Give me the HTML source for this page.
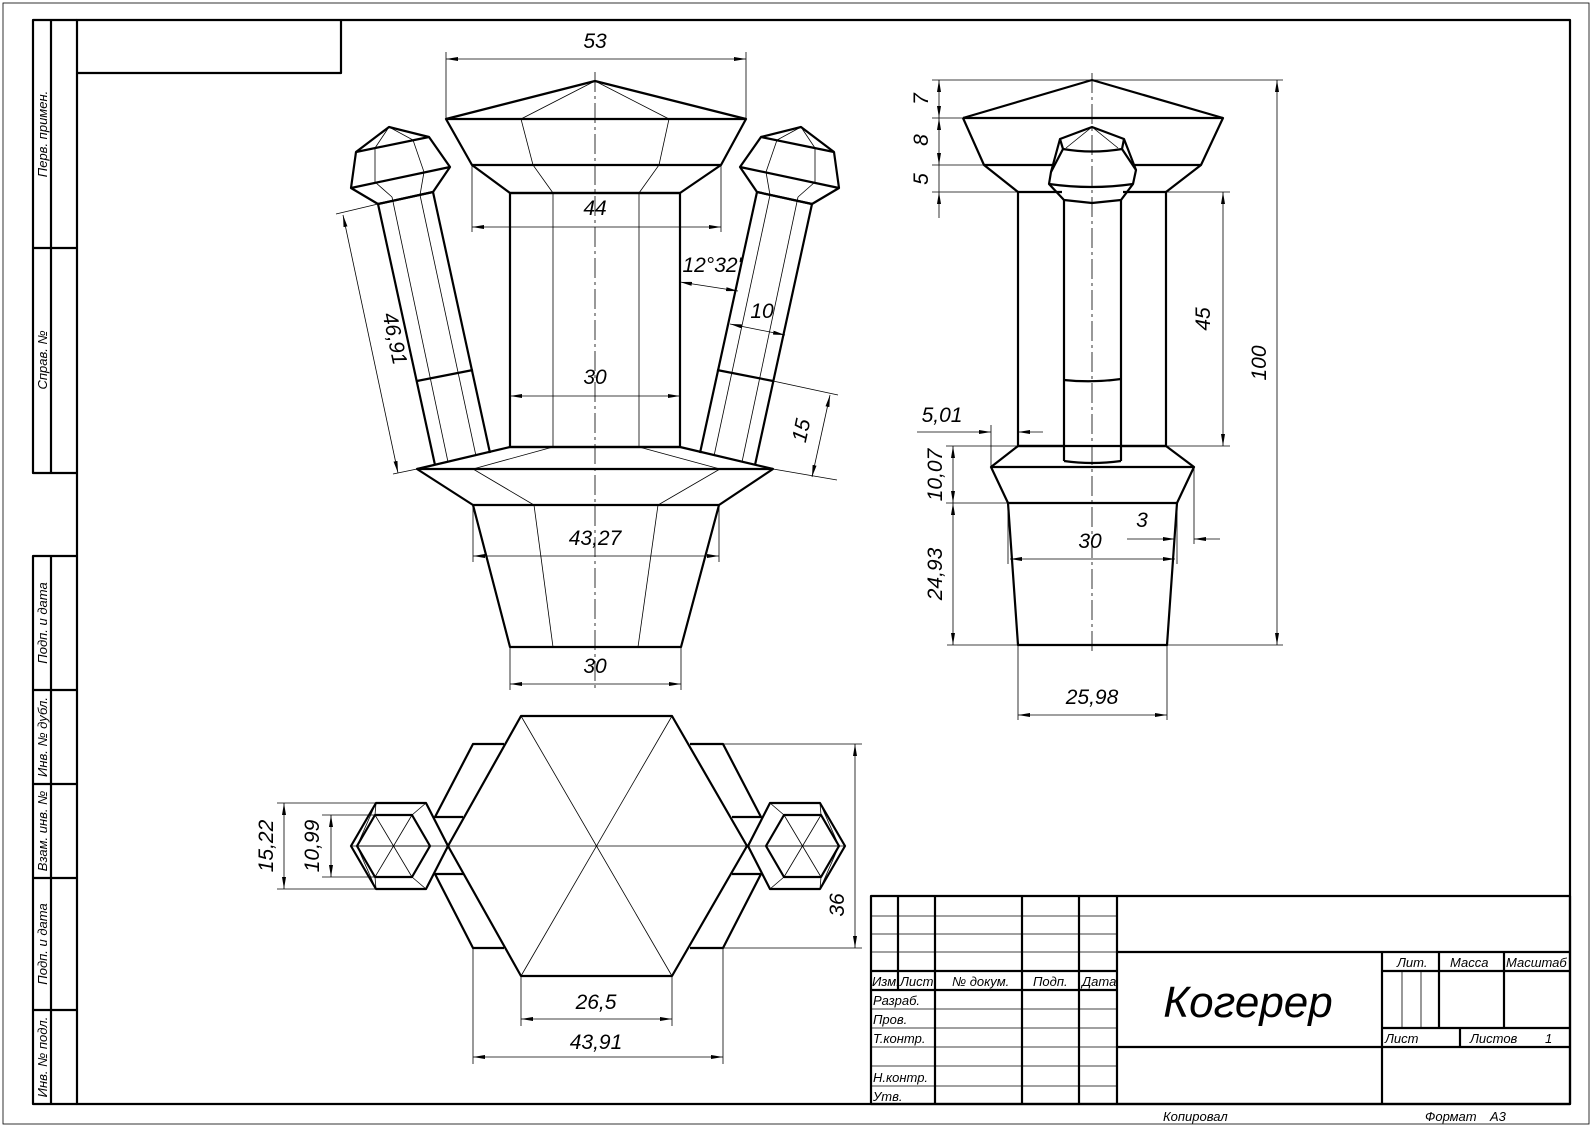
<!DOCTYPE html>
<html><head><meta charset="utf-8"><style>
html,body{margin:0;padding:0;background:#fff}
svg{display:block}
text{font-family:"Liberation Sans Narrow","Liberation Sans","Noto Sans CJK SC",sans-serif;font-style:italic;fill:#000}
.k{stroke:#000;stroke-width:2.2;fill:none;stroke-linejoin:round}
.t{stroke:#000;stroke-width:0.8;fill:none}
.d{stroke:#000;stroke-width:0.8;fill:none;marker-start:url(#a);marker-end:url(#a)}
.c{stroke:#000;stroke-width:0.8;fill:none;stroke-dasharray:20 4 3 4}
.dim{font-size:21px;text-anchor:middle}
.s{font-size:13px}
</style></head><body>
<svg width="1592" height="1127" viewBox="0 0 1592 1127" xmlns="http://www.w3.org/2000/svg">
<defs>
<marker id="a" viewBox="0 0 12 4" refX="12" refY="2" markerUnits="userSpaceOnUse" markerWidth="12" markerHeight="4" orient="auto-start-reverse"><path d="M0,0 L12,2 L0,4 z" fill="#000"/></marker>
</defs>
<!-- frame -->
<rect x="3" y="3" width="1586" height="1121" class="t" stroke-width="1"/>
<rect x="77" y="20" width="1493" height="1084" class="k"/>
<polyline points="77,73 341,73 341,20" class="k"/>
<g class="k">
<polyline points="77,20 33,20 33,473 77,473"/>
<line x1="51" y1="20" x2="51" y2="473"/>
<line x1="33" y1="248" x2="77" y2="248"/>
<polyline points="77,556 33,556 33,1104 77,1104"/>
<line x1="51" y1="556" x2="51" y2="1104"/>
<line x1="33" y1="690" x2="77" y2="690"/>
<line x1="33" y1="784" x2="77" y2="784"/>
<line x1="33" y1="878" x2="77" y2="878"/>
<line x1="33" y1="1010" x2="77" y2="1010"/>
</g>
<g class="s" text-anchor="middle">
<text transform="translate(47,134) rotate(-90)">Перв. примен.</text>
<text transform="translate(47,360) rotate(-90)">Справ. №</text>
<text transform="translate(47,623) rotate(-90)">Подп. и дата</text>
<text transform="translate(47,737) rotate(-90)">Инв. № дубл.</text>
<text transform="translate(47,831) rotate(-90)">Взам. инв. №</text>
<text transform="translate(47,944) rotate(-90)">Подп. и дата</text>
<text transform="translate(47,1057) rotate(-90)">Инв. № подл.</text>
</g>

<!-- ================= FRONT VIEW ================= -->
<line x1="595" y1="72" x2="595" y2="692" class="c"/>
<polygon points="595,81 746,119 721,165 680,193 510,193 472,165 446,119" class="k"/>
<line x1="446" y1="119" x2="746" y2="119" class="k"/>
<line x1="472" y1="165" x2="721" y2="165" class="k"/>
<polyline points="595,81 521,119 533,165 553,193" class="t"/>
<polyline points="595,81 669,119 659,165 639,193" class="t"/>
<rect x="510" y="193" width="170" height="254" class="k"/>
<line x1="553" y1="193" x2="553" y2="447" class="t"/>
<line x1="639" y1="193" x2="639" y2="447" class="t"/>
<polygon points="510,447 680,447 773,469 719,505 681,647 510,647 473,505 417,469" class="k"/>
<line x1="417" y1="469" x2="773" y2="469" class="k"/>
<line x1="473" y1="505" x2="719" y2="505" class="k"/>
<polyline points="553,447 473,469 534,505 553,647" class="t"/>
<polyline points="639,447 720,469 658,505 638,647" class="t"/>
<g>
<polygon points="389,127 429,137 450,167 433,192 378,204 351,188 356,152" class="k"/>
<line x1="356" y1="152" x2="429" y2="137" class="k"/>
<line x1="351" y1="188" x2="450" y2="167" class="k"/>
<line x1="378" y1="204" x2="433" y2="192" class="k"/>
<polyline points="389,127 375,148 375,182 392,197" class="t"/>
<polyline points="389,127 413,140 424,172 420,195" class="t"/>
<line x1="378" y1="204" x2="435" y2="465" class="k"/>
<line x1="433" y1="192" x2="490" y2="453" class="k"/>
<line x1="392" y1="197" x2="448" y2="462" class="t"/>
<line x1="420" y1="195" x2="476" y2="456" class="t"/>
<line x1="417" y1="381" x2="473" y2="370" class="k" stroke-width="1.6"/>
</g>
<g transform="translate(1190,0) scale(-1,1)">
<polygon points="389,127 429,137 450,167 433,192 378,204 351,188 356,152" class="k"/>
<line x1="356" y1="152" x2="429" y2="137" class="k"/>
<line x1="351" y1="188" x2="450" y2="167" class="k"/>
<line x1="378" y1="204" x2="433" y2="192" class="k"/>
<polyline points="389,127 375,148 375,182 392,197" class="t"/>
<polyline points="389,127 413,140 424,172 420,195" class="t"/>
<line x1="378" y1="204" x2="435" y2="465" class="k"/>
<line x1="433" y1="192" x2="490" y2="453" class="k"/>
<line x1="392" y1="197" x2="448" y2="462" class="t"/>
<line x1="420" y1="195" x2="476" y2="456" class="t"/>
<line x1="417" y1="381" x2="473" y2="370" class="k" stroke-width="1.6"/>
</g>
<line x1="446" y1="52" x2="446" y2="119" class="t"/>
<line x1="746" y1="52" x2="746" y2="119" class="t"/>
<line x1="446" y1="59" x2="746" y2="59" class="d"/>
<text x="595" y="48" class="dim">53</text>
<line x1="472" y1="165" x2="472" y2="232" class="t"/>
<line x1="721" y1="165" x2="721" y2="232" class="t"/>
<line x1="472" y1="227" x2="721" y2="227" class="d"/>
<text x="595" y="215" class="dim">44</text>
<line x1="510" y1="396" x2="680" y2="396" class="d"/>
<text x="595" y="384" class="dim">30</text>
<line x1="473" y1="505" x2="473" y2="562" class="t"/>
<line x1="719" y1="505" x2="719" y2="562" class="t"/>
<line x1="473" y1="556" x2="719" y2="556" class="d"/>
<text x="595" y="545" class="dim">43,27</text>
<line x1="510" y1="647" x2="510" y2="690" class="t"/>
<line x1="681" y1="647" x2="681" y2="690" class="t"/>
<line x1="510" y1="684" x2="681" y2="684" class="d"/>
<text x="595" y="673" class="dim">30</text>
<line x1="378" y1="204" x2="336" y2="214" class="t"/>
<line x1="417" y1="469" x2="393" y2="474" class="t"/>
<line x1="343" y1="215" x2="398" y2="473" class="d"/>
<text class="dim" transform="translate(388,340) rotate(78)">46,91</text>
<line x1="680" y1="282" x2="738" y2="291" class="d"/>
<text x="712" y="272" class="dim" font-size="19">12°32'</text>
<line x1="730" y1="324" x2="785" y2="335" class="d"/>
<text x="762" y="318" class="dim">10</text>
<line x1="773" y1="381" x2="838" y2="395" class="t"/>
<line x1="773" y1="469" x2="837" y2="480" class="t"/>
<line x1="830" y1="395" x2="812" y2="477" class="d"/>
<text class="dim" transform="translate(808,432) rotate(-78)">15</text>

<!-- ================= SIDE VIEW ================= -->
<line x1="1092" y1="73" x2="1092" y2="652" class="c"/>
<polyline points="963,118 1092,80 1223,118 1201,165 1166,192" class="k"/>
<polyline points="963,118 984,165 1018,192" class="k"/>
<line x1="963" y1="118" x2="1223" y2="118" class="k"/>
<line x1="984" y1="165" x2="1052" y2="165" class="k"/>
<line x1="1134" y1="165" x2="1201" y2="165" class="k"/>
<line x1="1018" y1="192" x2="1062" y2="192" class="k"/>
<line x1="1123" y1="192" x2="1166" y2="192" class="k"/>
<line x1="1018" y1="192" x2="1018" y2="446" class="k"/>
<line x1="1166" y1="192" x2="1166" y2="446" class="k"/>
<!-- knob -->
<polygon points="1092,127 1124,139 1136,170 1133,184 1121,200 1092,203 1064,200 1049,184 1051,172 1060,139" class="k" fill="#fff"/>
<polyline points="1060,139 1063,149 1051,172" class="k" stroke-width="1.4"/>
<polyline points="1124,139 1122,149 1136,170" class="k" stroke-width="1.4"/>
<line x1="1092" y1="127" x2="1066" y2="148" class="t"/>
<line x1="1092" y1="127" x2="1118" y2="148" class="t"/>
<path d="M1063,149 Q1092,154 1122,149" class="k" stroke-width="1.6"/>
<path d="M1049,184 Q1092,190 1133,184" class="k" stroke-width="1.6"/>
<line x1="1064" y1="200" x2="1064" y2="461" class="k"/>
<line x1="1121" y1="200" x2="1121" y2="461" class="k"/>
<path d="M1064,461 Q1092,465 1121,461" class="k"/>
<path d="M1064,380 Q1092,383 1121,379" class="k" stroke-width="1.4"/>
<!-- collar -->
<line x1="1018" y1="446" x2="1064" y2="446" class="k"/>
<line x1="1121" y1="446" x2="1166" y2="446" class="k"/>
<polygon points="1018,446 1166,446 1194,467 1177,503 1167,645 1018,645 1008,503 991,467" class="k"/>
<line x1="991" y1="467" x2="1194" y2="467" class="k"/>
<line x1="1008" y1="503" x2="1177" y2="503" class="k"/>
<!-- side dims -->
<line x1="932" y1="80" x2="1283" y2="80" class="t"/>
<line x1="932" y1="118" x2="963" y2="118" class="t"/>
<line x1="932" y1="165" x2="984" y2="165" class="t"/>
<line x1="932" y1="192" x2="1018" y2="192" class="t"/>
<line x1="939" y1="80" x2="939" y2="118" class="d"/>
<line x1="939" y1="118" x2="939" y2="165" class="d"/>
<line x1="939" y1="165" x2="939" y2="192" class="t"/>
<line x1="939" y1="192" x2="939" y2="218" class="t" marker-start="url(#a)"/>
<text class="dim" transform="translate(928,99) rotate(-90)">7</text>
<text class="dim" transform="translate(928,140) rotate(-90)">8</text>
<text class="dim" transform="translate(928,179) rotate(-90)">5</text>
<line x1="1166" y1="192" x2="1230" y2="192" class="t"/>
<line x1="1166" y1="446" x2="1230" y2="446" class="t"/>
<line x1="1223" y1="192" x2="1223" y2="446" class="d"/>
<text class="dim" transform="translate(1210,319) rotate(-90)">45</text>
<line x1="1167" y1="645" x2="1283" y2="645" class="t"/>
<line x1="1277" y1="80" x2="1277" y2="645" class="d"/>
<text class="dim" transform="translate(1266,363) rotate(-90)">100</text>
<line x1="946" y1="446" x2="1018" y2="446" class="t"/>
<line x1="946" y1="503" x2="1008" y2="503" class="t"/>
<line x1="947" y1="645" x2="1018" y2="645" class="t"/>
<line x1="953" y1="446" x2="953" y2="503" class="d"/>
<line x1="953" y1="503" x2="953" y2="645" class="d"/>
<text class="dim" transform="translate(942,475) rotate(-90)">10,07</text>
<text class="dim" transform="translate(942,574) rotate(-90)">24,93</text>
<line x1="991" y1="425" x2="991" y2="467" class="t"/>
<line x1="917" y1="432" x2="991" y2="432" class="t" marker-end="url(#a)"/>
<line x1="1018" y1="432" x2="1043" y2="432" class="t" marker-start="url(#a)"/>
<text x="942" y="422" class="dim">5,01</text>
<line x1="1008" y1="503" x2="1008" y2="564" class="t"/>
<line x1="1177" y1="503" x2="1177" y2="564" class="t"/>
<line x1="1010" y1="559" x2="1175" y2="559" class="d"/>
<text x="1090" y="548" class="dim">30</text>
<line x1="1194" y1="467" x2="1194" y2="544" class="t"/>
<line x1="1127" y1="539" x2="1175" y2="539" class="t" marker-end="url(#a)"/>
<line x1="1194" y1="539" x2="1220" y2="539" class="t" marker-start="url(#a)"/>
<text x="1142" y="527" class="dim">3</text>
<line x1="1018" y1="645" x2="1018" y2="720" class="t"/>
<line x1="1167" y1="645" x2="1167" y2="720" class="t"/>
<line x1="1018" y1="715" x2="1167" y2="715" class="d"/>
<text x="1092" y="704" class="dim">25,98</text>

<!-- ================= TOP VIEW ================= -->
<polyline points="504,744 473,744 435,817 463,817" class="k"/>
<polyline points="504,948 473,948 435,874 463,874" class="k"/>
<polyline points="690,744 723,744 761,817 732,817" class="k"/>
<polyline points="690,948 723,948 761,874 732,874" class="k"/>
<polygon points="521,716 672,716 747,846 672,976 521,976 448,846" class="k"/>
<g class="t">
<line x1="521" y1="716" x2="672" y2="976"/>
<line x1="672" y1="716" x2="521" y2="976"/>
<line x1="351" y1="846" x2="845" y2="846"/>
</g>
<g>
<polygon points="376,803 426,803 448,846 426,889 376,889 351,846" class="k" fill="#fff"/>
<polyline points="376,803 357,846 376,889" class="t"/>
<polygon points="375,815 412,815 430,846 412,877 375,877 357,846" class="k" stroke-width="1.8"/>
<line x1="376" y1="803" x2="375" y2="815" class="t"/>
<line x1="426" y1="803" x2="412" y2="815" class="t"/>
<line x1="426" y1="889" x2="412" y2="877" class="t"/>
<line x1="376" y1="889" x2="375" y2="877" class="t"/>
<g class="t">
<line x1="375" y1="815" x2="412" y2="877"/>
<line x1="412" y1="815" x2="375" y2="877"/>
<line x1="357" y1="846" x2="430" y2="846"/>
</g>
</g>
<g transform="translate(1196,0) scale(-1,1)">
<polygon points="376,803 426,803 448,846 426,889 376,889 351,846" class="k" fill="#fff"/>
<polyline points="376,803 357,846 376,889" class="t"/>
<polygon points="375,815 412,815 430,846 412,877 375,877 357,846" class="k" stroke-width="1.8"/>
<line x1="376" y1="803" x2="375" y2="815" class="t"/>
<line x1="426" y1="803" x2="412" y2="815" class="t"/>
<line x1="426" y1="889" x2="412" y2="877" class="t"/>
<line x1="376" y1="889" x2="375" y2="877" class="t"/>
<g class="t">
<line x1="375" y1="815" x2="412" y2="877"/>
<line x1="412" y1="815" x2="375" y2="877"/>
<line x1="357" y1="846" x2="430" y2="846"/>
</g>
</g>
<line x1="277" y1="803" x2="376" y2="803" class="t"/>
<line x1="277" y1="889" x2="376" y2="889" class="t"/>
<line x1="284" y1="803" x2="284" y2="889" class="d"/>
<text class="dim" transform="translate(273,846) rotate(-90)">15,22</text>
<line x1="322" y1="815" x2="375" y2="815" class="t"/>
<line x1="322" y1="877" x2="375" y2="877" class="t"/>
<line x1="331" y1="815" x2="331" y2="877" class="d"/>
<text class="dim" transform="translate(319,846) rotate(-90)">10,99</text>
<line x1="723" y1="744" x2="862" y2="744" class="t"/>
<line x1="723" y1="948" x2="862" y2="948" class="t"/>
<line x1="855" y1="744" x2="855" y2="948" class="d"/>
<text class="dim" transform="translate(844,905) rotate(-90)">36</text>
<line x1="521" y1="976" x2="521" y2="1026" class="t"/>
<line x1="672" y1="976" x2="672" y2="1026" class="t"/>
<line x1="521" y1="1019" x2="672" y2="1019" class="d"/>
<text x="596" y="1009" class="dim">26,5</text>
<line x1="473" y1="948" x2="473" y2="1064" class="t"/>
<line x1="723" y1="948" x2="723" y2="1064" class="t"/>
<line x1="473" y1="1057" x2="723" y2="1057" class="d"/>
<text x="596" y="1049" class="dim">43,91</text>

<!-- ================= TITLE BLOCK ================= -->
<g class="k">
<rect x="871" y="896" width="699" height="208"/>
<line x1="1117" y1="896" x2="1117" y2="1104"/>
<line x1="898" y1="896" x2="898" y2="990"/>
<line x1="935" y1="896" x2="935" y2="1104"/>
<line x1="1022" y1="896" x2="1022" y2="1104"/>
<line x1="1079" y1="896" x2="1079" y2="1104"/>
<line x1="871" y1="971" x2="1117" y2="971"/>
<line x1="871" y1="990" x2="1117" y2="990"/>
<line x1="1117" y1="952" x2="1570" y2="952"/>
<line x1="1117" y1="1047" x2="1570" y2="1047"/>
<line x1="1382" y1="952" x2="1382" y2="1104"/>
<line x1="1382" y1="971" x2="1570" y2="971"/>
<line x1="1382" y1="1028" x2="1570" y2="1028"/>
<line x1="1439" y1="952" x2="1439" y2="1028"/>
<line x1="1504" y1="952" x2="1504" y2="1028"/>
<line x1="1460" y1="1028" x2="1460" y2="1047"/>
</g>
<g class="t" stroke-width="1">
<line x1="871" y1="916" x2="1117" y2="916"/>
<line x1="871" y1="934" x2="1117" y2="934"/>
<line x1="871" y1="952" x2="1117" y2="952"/>
<line x1="871" y1="1009" x2="1117" y2="1009"/>
<line x1="871" y1="1028" x2="1117" y2="1028"/>
<line x1="871" y1="1047" x2="1117" y2="1047"/>
<line x1="871" y1="1066" x2="1117" y2="1066"/>
<line x1="871" y1="1086" x2="1117" y2="1086"/>
<line x1="1402" y1="971" x2="1402" y2="1028"/>
<line x1="1421" y1="971" x2="1421" y2="1028"/>
</g>
<g class="s">
<text x="872" y="986">Изм.</text>
<text x="900" y="986">Лист</text>
<text x="952" y="986">№ докум.</text>
<text x="1033" y="986">Подп.</text>
<text x="1082" y="986">Дата</text>
<text x="873" y="1005">Разраб.</text>
<text x="873" y="1024">Пров.</text>
<text x="873" y="1043">Т.контр.</text>
<text x="873" y="1082">Н.контр.</text>
<text x="873" y="1101">Утв.</text>
<text x="1397" y="967">Лит.</text>
<text x="1450" y="967">Масса</text>
<text x="1506" y="967">Масштаб</text>
<text x="1385" y="1043">Лист</text>
<text x="1470" y="1043">Листов</text>
<text x="1545" y="1043">1</text>
<text x="1163" y="1121">Копировал</text>
<text x="1425" y="1121">Формат</text>
<text x="1490" y="1121">A3</text>
</g>
<text x="1248" y="1017" font-size="44" text-anchor="middle">Когерер</text>
</svg>
</body></html>
